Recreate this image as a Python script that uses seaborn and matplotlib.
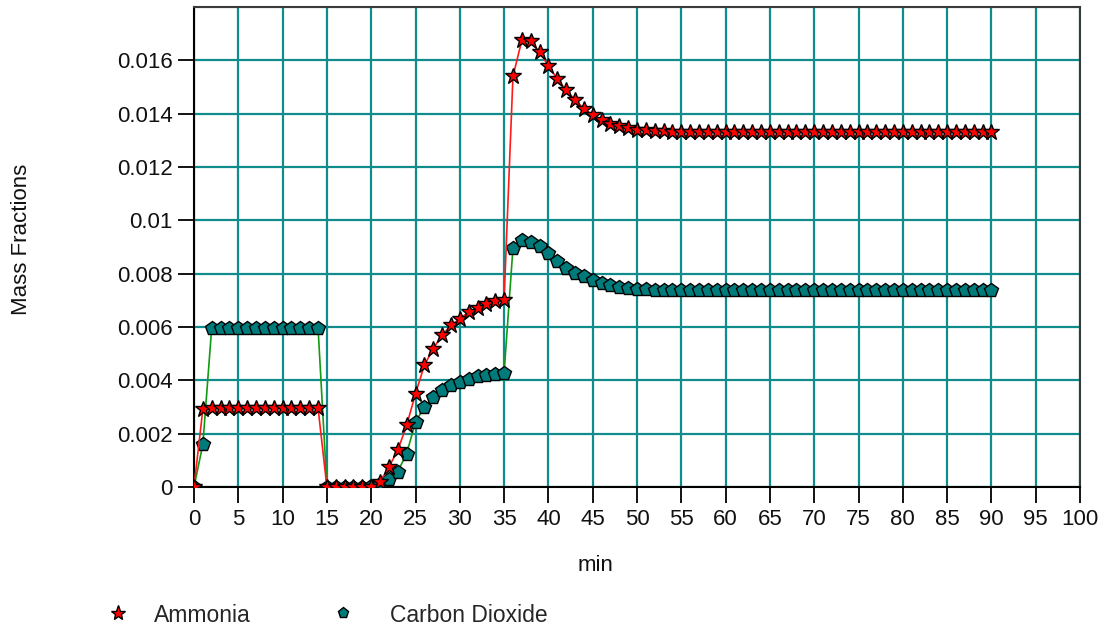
import numpy as np
import pandas as pd
import matplotlib
matplotlib.use("Agg")
import matplotlib.pyplot as plt
import seaborn as sns
from matplotlib.ticker import FuncFormatter

# time axis (minutes) and mass fractions
minutes = list(range(0, 91))

ammonia = [
    0.0, 0.00292,
    0.00297, 0.00297, 0.00297, 0.00297, 0.00297, 0.00297, 0.00297,
    0.00297, 0.00297, 0.00297, 0.00297, 0.00297, 0.00297,
    0.0, 0.0, 0.0, 0.0, 0.0, 0.0,
    0.0002, 0.00075, 0.00138, 0.00231, 0.0035, 0.00456, 0.00519,
    0.00569, 0.00606, 0.00631, 0.00656, 0.00673, 0.00685, 0.00698,
    0.00703, 0.0154, 0.01675, 0.01673, 0.01631, 0.0158, 0.0153,
    0.01488, 0.01452, 0.01418, 0.01396, 0.01377, 0.01363, 0.01353,
    0.01346, 0.0134, 0.01337, 0.01335, 0.01334, 0.01333,
    0.01332, 0.01332, 0.01332, 0.01332, 0.01332, 0.01332, 0.01332,
    0.01332, 0.01332, 0.01332, 0.01332, 0.01332, 0.01332, 0.01332,
    0.01332, 0.01332, 0.01332, 0.01332, 0.01332, 0.01332, 0.01332,
    0.01332, 0.01332, 0.01332, 0.01332, 0.01332, 0.01332, 0.01332,
    0.01332, 0.01332, 0.01332, 0.01332, 0.01332, 0.01332, 0.01332,
    0.01332,
]

carbon_dioxide = [
    0.0, 0.0016,
    0.00598, 0.00598, 0.00598, 0.00598, 0.00598, 0.00598, 0.00598,
    0.00598, 0.00598, 0.00598, 0.00598, 0.00598, 0.00598,
    0.0, 0.0, 0.0, 0.0, 0.0, 0.00003,
    0.0001, 0.0003, 0.00058, 0.00125, 0.00244, 0.003, 0.00338,
    0.00363, 0.00381, 0.00394, 0.00406, 0.00415, 0.00421, 0.00425,
    0.00428, 0.00896, 0.00926, 0.0092, 0.00903, 0.00878, 0.00848,
    0.00823, 0.00804, 0.0079, 0.00778, 0.00766, 0.00756, 0.0075,
    0.00746, 0.00743, 0.00742, 0.0074, 0.0074, 0.00739,
    0.00739, 0.00738, 0.00738, 0.00737, 0.00737, 0.00737, 0.00737,
    0.00737, 0.00737, 0.00737, 0.00737, 0.00737, 0.00737, 0.00737,
    0.00737, 0.00737, 0.00737, 0.00737, 0.00737, 0.00737, 0.00737,
    0.00737, 0.00737, 0.00737, 0.00737, 0.00737, 0.00737, 0.00737,
    0.00737, 0.00737, 0.00737, 0.00737, 0.00737, 0.00737, 0.00737,
    0.00737,
]

x_ticks = list(range(0, 101, 5))
y_ticks = [0, 0.002, 0.004, 0.006, 0.008, 0.01, 0.012, 0.014, 0.016]

df = pd.DataFrame({"min": minutes, "Ammonia": ammonia, "Carbon Dioxide": carbon_dioxide})

sns.set_theme(style="white")
plt.rcParams["font.family"] = ["Liberation Sans", "DejaVu Sans"]

fig = plt.figure(figsize=(11.07, 6.32), dpi=100)
ax = fig.add_axes([194 / 1107, 145 / 632, 886 / 1107, 480 / 632])

grid_col = "#108c8c"

# CO2 first so the ammonia stars sit on top
sns.lineplot(data=df, x="min", y="Carbon Dioxide", ax=ax, color="#129a12", lw=1.2,
             marker="p", markersize=10, markerfacecolor="#007b7b",
             markeredgecolor="black", markeredgewidth=1.0, zorder=3)
sns.lineplot(data=df, x="min", y="Ammonia", ax=ax, color="#ff1a1a", lw=1.2,
             marker="*", markersize=12, markerfacecolor="#ff0000",
             markeredgecolor="black", markeredgewidth=1.0, zorder=4)

ax.set_xlim(0, 100)
ax.set_ylim(0, 0.018)
ax.set_xticks(x_ticks)
ax.set_yticks(y_ticks)
ax.yaxis.set_major_formatter(FuncFormatter(lambda v, p: "0" if v == 0 else f"{v:g}"))

ax.grid(True, color=grid_col, lw=1.6)
ax.set_axisbelow(True)
ax.axhline(0.018, color="#333333", lw=1.5, zorder=1)

for side in ["left", "bottom"]:
    ax.spines[side].set_color("black")
    ax.spines[side].set_linewidth(1.5)
for side in ["top", "right"]:
    ax.spines[side].set_color("#3a3a3a")
    ax.spines[side].set_linewidth(1.5)

ax.tick_params(axis="both", direction="out", length=11.5, width=1.3, color="black",
               labelsize=16, labelcolor="#111111", pad=4, bottom=True, left=True)

ax.set_xlabel("min", fontsize=16, color="#111111")
ax.set_ylabel("Mass Fractions", fontsize=16, color="#111111")
ax.xaxis.set_label_coords(0.4526, -0.142)
ax.yaxis.set_label_coords(-0.183, 0.515)

# two separate legend entries, spaced like the original
nh3_handle = plt.Line2D([], [], ls="none", marker="*", markersize=11,
                        markerfacecolor="#ff0000", markeredgecolor="black",
                        markeredgewidth=1.0)
co2_handle = plt.Line2D([], [], ls="none", marker="p", markersize=8,
                        markerfacecolor="#007b7b", markeredgecolor="black",
                        markeredgewidth=1.0)
fig.legend([nh3_handle], ["Ammonia"], loc="center left",
           bbox_to_anchor=(107 / 1107, 17 / 632), frameon=False,
           fontsize=16.5, handlelength=1.0, handletextpad=1.05,
           borderpad=0, borderaxespad=0)
fig.legend([co2_handle], ["Carbon Dioxide"], loc="center left",
           bbox_to_anchor=(332 / 1107, 17 / 632), frameon=False,
           fontsize=16.5, handlelength=1.0, handletextpad=1.55,
           borderpad=0, borderaxespad=0)

fig.savefig("out.png", dpi=100)
